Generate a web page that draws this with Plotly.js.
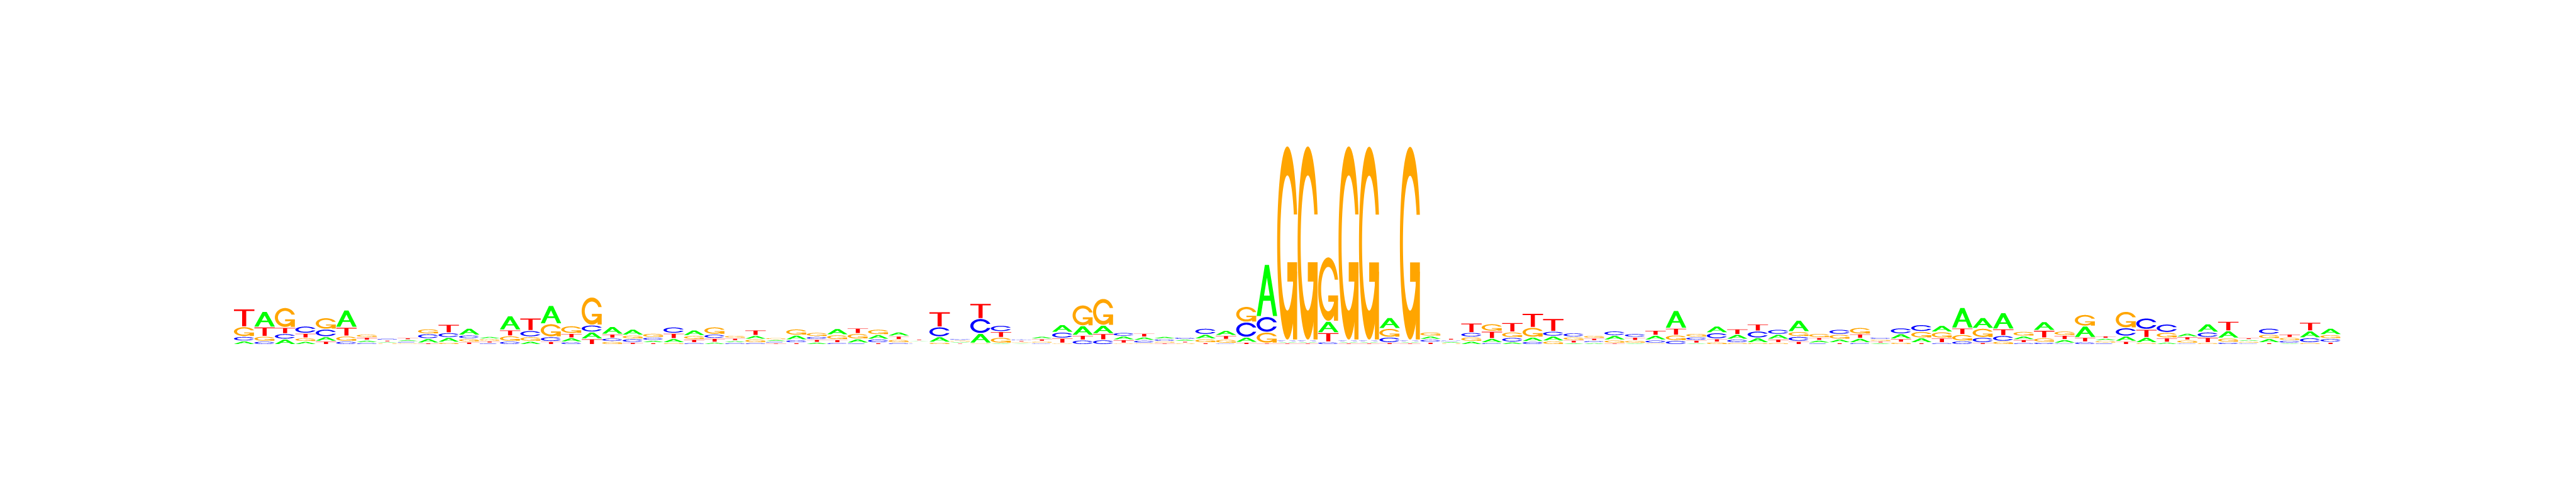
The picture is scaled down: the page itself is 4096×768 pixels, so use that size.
<!DOCTYPE html>
<html><head><meta charset="utf-8">
<script src="https://cdn.plot.ly/plotly-3.0.1.min.js"></script>
<style>html,body{margin:0;padding:0;background:#fff;overflow:hidden}</style>
</head><body><div id="chart" style="width:4096px;height:768px"></div>
<script>
// Sequence logo: letter heights in bits per position (seqLogo style)
const positions = Array.from({length: 103}, (_, i) => i + 1);
const bases = ['A', 'C', 'G', 'T'];
const hA = [0.025,0.143,0.043,0.020,0.034,0.160,0.015,0.004,0.008,0.032,0.036,0.057,0.013,0.129,0.022,0.169,0.029,0.057,0.064,0.048,
  0.013,0.030,0.044,0.013,0.010,0.026,0.008,0.036,0.012,0.051,0.029,0.034,0.030,0.003,0.043,0.004,0.085,0.004,0.002,0.016,
  0.064,0.083,0.072,0.025,0.022,0.014,0.009,0.034,0.039,0.040,0.502,0.005,0.005,0.102,0.005,0.005,0.097,0.005,0.022,0.005,
  0.022,0.030,0.015,0.032,0.037,0.006,0.008,0.034,0.004,0.037,0.164,0.004,0.057,0.037,0.036,0.037,0.102,0.016,0.025,0.032,
  0.006,0.039,0.037,0.053,0.192,0.095,0.150,0.025,0.076,0.025,0.101,0.013,0.041,0.041,0.013,0.025,0.071,0.062,0.008,0.030,
  0.004,0.058,0.053];
const hC = [0.034,0.022,0.044,0.060,0.064,0.022,0.008,0.008,0.006,0.037,0.037,0.025,0.006,0.022,0.051,0.036,0.016,0.058,0.023,0.025,
  0.020,0.051,0.008,0.030,0.008,0.008,0.006,0.018,0.019,0.009,0.006,0.025,0.008,0.002,0.087,0.006,0.136,0.051,0.005,0.004,
  0.048,0.034,0.036,0.026,0.018,0.013,0.011,0.050,0.004,0.138,0.143,0.005,0.005,0.016,0.005,0.005,0.043,0.005,0.018,0.005,
  0.034,0.009,0.034,0.020,0.038,0.029,0.010,0.035,0.025,0.020,0.029,0.022,0.048,0.023,0.057,0.039,0.037,0.006,0.039,0.009,
  0.010,0.048,0.057,0.008,0.025,0.041,0.046,0.008,0.013,0.004,0.016,0.006,0.071,0.101,0.072,0.004,0.042,0.013,0.004,0.050,
  0.016,0.037,0.025];
const hG = [0.086,0.039,0.185,0.025,0.102,0.041,0.021,0.003,0.004,0.039,0.013,0.022,0.012,0.043,0.034,0.118,0.065,0.265,0.020,0.026,
  0.029,0.008,0.027,0.062,0.016,0.025,0.009,0.051,0.030,0.036,0.043,0.043,0.022,0.002,0.013,0.005,0.004,0.046,0.003,0.008,
  0.004,0.194,0.253,0.004,0.004,0.008,0.005,0.027,0.027,0.144,0.097,1.895,1.895,0.622,1.895,1.892,0.076,1.891,0.030,0.003,
  0.032,0.063,0.044,0.086,0.025,0.023,0.017,0.020,0.016,0.004,0.044,0.025,0.015,0.009,0.009,0.008,0.038,0.030,0.037,0.053,
  0.009,0.013,0.053,0.050,0.053,0.079,0.022,0.036,0.032,0.032,0.104,0.012,0.151,0.009,0.044,0.020,0.009,0.030,0.007,0.032,
  0.020,0.009,0.029];
const hT = [0.165,0.081,0.051,0.036,0.023,0.076,0.018,0.006,0.009,0.006,0.072,0.016,0.008,0.048,0.113,0.020,0.034,0.046,0.029,0.011,
  0.008,0.043,0.023,0.028,0.015,0.044,0.004,0.008,0.018,0.020,0.044,0.008,0.023,0.005,0.139,0.003,0.139,0.047,0.004,0.013,
  0.039,0.037,0.051,0.023,0.027,0.004,0.007,0.008,0.028,0.012,0.004,0.004,0.004,0.080,0.004,0.004,0.009,0.004,0.013,0.008,
  0.083,0.062,0.083,0.129,0.115,0.016,0.014,0.004,0.022,0.038,0.057,0.018,0.022,0.044,0.060,0.025,0.022,0.017,0.008,0.033,
  0.007,0.023,0.008,0.036,0.054,0.009,0.055,0.020,0.064,0.031,0.034,0.013,0.022,0.069,0.032,0.022,0.041,0.083,0.008,0.008,
  0.022,0.074,0.013];

const heights = {A: hA, C: hC, G: hG, T: hT};
const colors = {A: '#00FF00', C: '#0000FF', G: '#FFA500', T: '#FF0000'};
const GAP = 0.01;

// ---- glyph outlines in unit box (seqLogo letter polygons) ----
function seq(a, b, n) { const r = []; for (let i = 0; i < n; i++) r.push(a + (b - a) * i / (n - 1)); return r; }
const NS = 50;
function ringPoly() {
  const a1 = seq(0.3 + Math.PI / 2, Math.PI, NS), a2 = seq(Math.PI, 1.5 * Math.PI, NS);
  const xl = [], yl = [];
  a1.concat(a2).forEach(a => { xl.push(0.5 + 0.5 * Math.sin(a)); yl.push(0.5 + 0.5 * Math.cos(a)); });
  const maxY1 = 0.5 + 0.5 * Math.cos(a1[0]);
  const x = xl.concat(xl.slice().reverse());
  const y = yl.concat(yl.slice().reverse().map(v => 1 - v));
  const xi1 = [], yi1 = [];
  a1.forEach(a => { const yy = 0.5 + 0.35 * Math.cos(a); if (yy <= maxY1) { xi1.push(0.5 + 0.35 * Math.sin(a)); yi1.push(yy); } });
  yi1[0] = maxY1;
  const xi = xi1.concat(a2.map(a => 0.5 + 0.35 * Math.sin(a)));
  const yi = yi1.concat(a2.map(a => 0.5 + 0.35 * Math.cos(a)));
  const x1 = xi.concat(xi.slice().reverse());
  const y1 = yi.concat(yi.slice().reverse().map(v => 1 - v));
  const X = x.concat(x1.slice().reverse()), Y = y.concat(y1.slice().reverse());
  return X.map((v, i) => [v, Y[i]]);
}
const r1 = 0.5 + 0.5 * Math.sin(0.3 + Math.PI / 2);
const glyphs = {
  A: [[[0,0],[0.4,1],[0.6,1],[1,0],[0.8,0],[0.68,0.3],[0.32,0.3],[0.2,0]],
      [[0.36,0.4],[0.5,0.75],[0.64,0.4]]],
  T: [[[0,1],[1,1],[1,0.9],[0.6,0.9],[0.6,0],[0.4,0],[0.4,0.9],[0,0.9]]],
  C: [ringPoly()],
  G: [ringPoly()],
  Gbar: [[[r1,0.4],[0.5,0.4],[0.5,0.3],[r1-0.2,0.3],[r1-0.2,0],[r1,0]]]
};

function toPath(polys, x0, y0, w, h) {
  return polys.map(p => 'M' + p.map(([u, v]) => (x0 + w * u).toFixed(4) + ',' + (y0 + h * v).toFixed(5)).join('L') + 'Z').join('');
}

const shapes = [];
positions.forEach((pos, j) => {
  const col = bases.map(b => ({b, h: heights[b][j]}));
  col.sort((p, q) => p.h - q.h);
  let yPos = 0;
  col.forEach(({b, h}) => {
    if (h > 0) {
      const x0 = pos - 0.5;
      const base = {type: 'path', xref: 'x', yref: 'y', fillcolor: colors[b], line: {width: 0}, layer: 'above', fillrule: 'evenodd'};
      shapes.push(Object.assign({}, base, {path: toPath(glyphs[b], x0, yPos, 1, h)}));
      if (b === 'G') shapes.push(Object.assign({}, base, {path: toPath(glyphs.Gbar, x0, yPos, 1, h)}));
    }
    yPos += h + GAP;
  });
});

const data = [{x: positions, y: positions.map(() => 0), type: 'scatter', mode: 'markers',
  marker: {opacity: 0}, hoverinfo: 'skip', showlegend: false}];

const layout = {
  width: 4096, height: 768, autosize: false,
  paper_bgcolor: '#ffffff', plot_bgcolor: '#ffffff',
  margin: {l: 372, r: 374, t: 223, b: 221, pad: 0},
  showlegend: false,
  xaxis: {range: [0.5, 103.5], visible: false, showgrid: false, zeroline: false, fixedrange: true},
  yaxis: {range: [0, 2], visible: false, showgrid: false, zeroline: false, fixedrange: true},
  shapes: shapes
};
Plotly.newPlot('chart', data, layout, {staticPlot: true, displayModeBar: false});
</script>
</body></html>
